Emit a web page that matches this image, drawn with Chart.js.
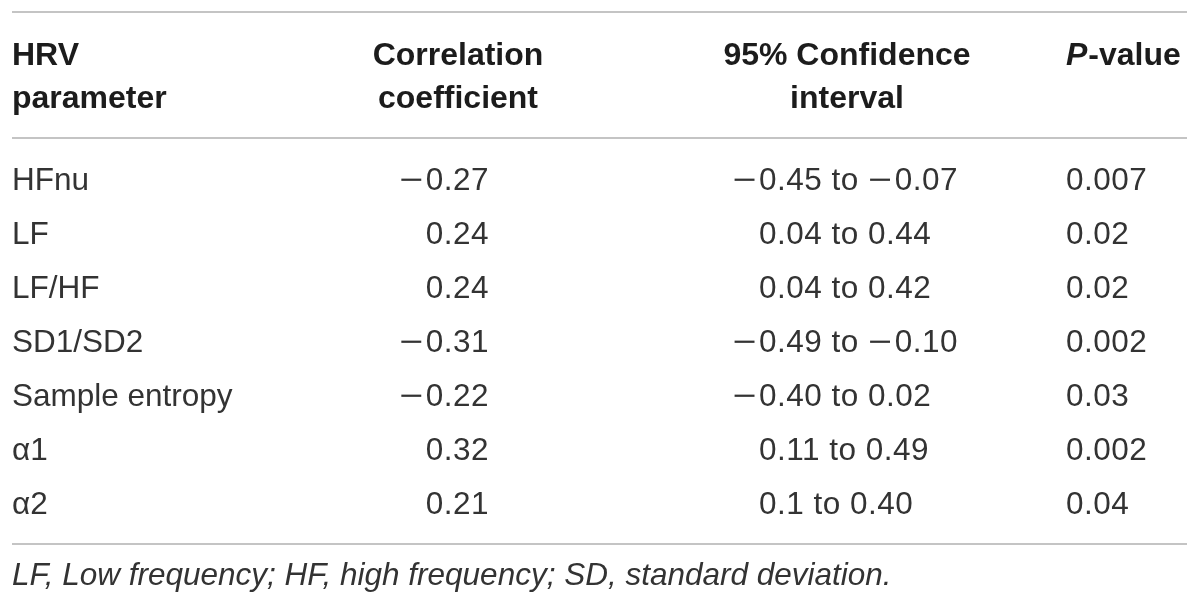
<!DOCTYPE html>
<html>
<head>
<meta charset="utf-8">
<title>HRV parameter correlations</title>
<script src="https://cdn.jsdelivr.net/npm/chart.js@4.4.1/dist/chart.umd.min.js"></script>
<style>
  html, body { margin: 0; padding: 0; background: #ffffff; }
  #table { display: block; }
</style>
</head>
<body>
<canvas id="table" width="1200" height="606"></canvas>
<script>
// Table data
const parameters = ["HFnu", "LF", "LF/HF", "SD1/SD2", "Sample entropy", "\u03B11", "\u03B12"];
const correlation = [-0.27, 0.24, 0.24, -0.31, -0.22, 0.32, 0.21];
const ciLow = ["\u22120.45", "0.04", "0.04", "\u22120.49", "\u22120.40", "0.11", "0.1"];
const ciHigh = ["\u22120.07", "0.44", "0.42", "\u22120.10", "0.02", "0.49", "0.40"];
const pValues = [0.007, 0.02, 0.02, 0.002, 0.03, 0.002, 0.04];
const footnote = "LF, Low frequency; HF, high frequency; SD, standard deviation.";

// column anchors (x scale runs 0..1200 = canvas px)
const COL = { param: 12, corr: 489, ci: 759, p: 1066 };
const BODY_FONT = "31.5px 'Liberation Sans', Arial, sans-serif";
const HEAD_FONT = "bold 32px 'Liberation Sans', Arial, sans-serif";
const TEXT_COLOR = "#333333";
const RULE_COLOR = "#c4c4c4";
const MINUS_STRETCH = 1.3;
const MINUS_GAP = 2;

function fmt(v) {
  return (v < 0 ? "\u2212" : "") + Math.abs(v).toFixed(2);
}

function column(key, texts, align, numeric) {
  return {
    label: key,
    data: parameters.map((p) => ({ x: COL[key], y: p })),
    cellText: texts,
    cellAlign: align,
    numeric: numeric,
    pointRadius: 0,
  };
}

function minusWidth(c) {
  return c.measureText("\u2212").width * MINUS_STRETCH + MINUS_GAP;
}

// draws a number string with a longer minus sign, like the typeset table
function drawNumber(c, txt, x, y, align) {
  const parts = txt.split("\u2212");
  const mw = minusWidth(c);
  let w = parts.reduce((s, p) => s + c.measureText(p).width, 0) + mw * (parts.length - 1);
  let cx = align === "right" ? x - w : x;
  c.textAlign = "left";
  parts.forEach((part, k) => {
    if (k > 0) {
      c.save();
      c.translate(cx, y);
      c.scale(MINUS_STRETCH, 1);
      c.fillText("\u2212", 0, 0);
      c.restore();
      cx += mw;
    }
    c.fillText(part, cx, y);
    cx += c.measureText(part).width;
  });
}

// draws rules, header, cell text and footnote
const tablePlugin = {
  id: "tableText",
  afterDatasetsDraw(chart) {
    const c = chart.ctx;
    const area = chart.chartArea;
    c.save();

    // horizontal rules
    c.strokeStyle = RULE_COLOR;
    c.lineWidth = 2;
    [12, area.top - 14, area.bottom + 14].forEach((y) => {
      c.beginPath();
      c.moveTo(12, y);
      c.lineTo(1187, y);
      c.stroke();
    });

    // header
    c.fillStyle = "#1c1c1c";
    c.font = HEAD_FONT;
    c.textBaseline = "alphabetic";
    c.textAlign = "left";
    c.fillText("HRV", 12, 65);
    c.fillText("parameter", 12, 108);
    c.textAlign = "center";
    c.fillText("Correlation", 458, 65);
    c.fillText("coefficient", 458, 108);
    c.fillText("95% Confidence", 847, 65);
    c.fillText("interval", 847, 108);
    c.textAlign = "left";
    c.font = "italic " + HEAD_FONT;
    c.fillText("P", COL.p, 65);
    const pw = c.measureText("P").width;
    c.font = HEAD_FONT;
    c.fillText("-value", COL.p + pw + 1, 65);

    // body cells
    c.fillStyle = TEXT_COLOR;
    c.font = BODY_FONT;
    chart.data.datasets.forEach((ds, i) => {
      const meta = chart.getDatasetMeta(i);
      c.letterSpacing = ds.numeric ? "0.5px" : "0px";
      meta.data.forEach((pt, j) => {
        const txt = ds.cellText[j];
        const y = pt.y + 11;
        if (!ds.numeric) {
          c.textAlign = ds.cellAlign;
          c.fillText(txt, pt.x, y);
          return;
        }
        let x = pt.x;
        let align = ds.cellAlign;
        if (align === "hang") {
          align = "left";
          if (txt.charAt(0) === "\u2212") x -= minusWidth(c);
        }
        drawNumber(c, txt, x, y, align);
      });
    });
    c.letterSpacing = "0px";

    // footnote
    c.font = "italic " + BODY_FONT;
    c.textAlign = "left";
    c.fillText(footnote, 12, area.bottom + 55);
    c.restore();
  },
};

const ctx = document.getElementById("table").getContext("2d");
new Chart(ctx, {
  type: "scatter",
  data: {
    datasets: [
      column("param", parameters, "left", false),
      column("corr", correlation.map(fmt), "right", true),
      column("ci", ciLow.map((lo, i) => lo + " to " + ciHigh[i]), "hang", true),
      column("p", pValues.map((v) => String(v)), "left", true),
    ],
  },
  options: {
    responsive: false,
    animation: false,
    layout: { padding: { top: 152, bottom: 76, left: 0, right: 0 } },
    scales: {
      x: { type: "linear", min: 0, max: 1200, display: false },
      y: { type: "category", labels: parameters, offset: true, display: false },
    },
    plugins: {
      legend: { display: false },
      tooltip: { enabled: false },
    },
  },
  plugins: [tablePlugin],
});
</script>
</body>
</html>
